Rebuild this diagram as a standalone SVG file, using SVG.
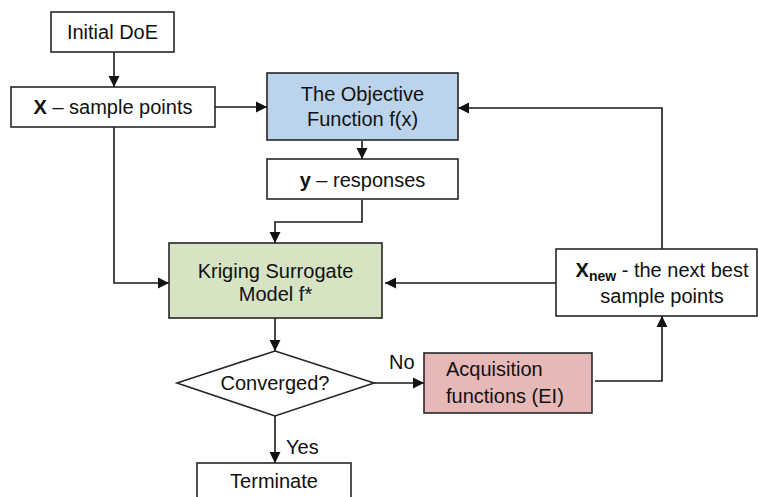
<svg xmlns="http://www.w3.org/2000/svg" width="758" height="497" viewBox="0 0 758 497">
<style>
.b{stroke:#262626;stroke-width:1.6;}
.t{font-family:"Liberation Sans",Arial,sans-serif;font-size:20px;fill:#111;}
.c{text-anchor:middle;}
.bo{font-weight:bold;}
.l{fill:none;stroke:#1a1a1a;stroke-width:1.6;}
</style>
<defs>
<marker id="ah" markerUnits="userSpaceOnUse" markerWidth="12" markerHeight="12" refX="11" refY="6" orient="auto">
<path d="M0,0.5 L11,6 L0,11.5 Z" fill="#111"/>
</marker>
</defs>
<rect width="758" height="497" fill="#fff"/>
<g id="connectors">
<line class="l" x1="114" y1="52" x2="114" y2="87" marker-end="url(#ah)"/>
<line class="l" x1="215" y1="107" x2="267" y2="107" marker-end="url(#ah)"/>
<line class="l" x1="362" y1="141" x2="362" y2="159" marker-end="url(#ah)"/>
<polyline class="l" points="362,200 362,222 275,222 275,243" marker-end="url(#ah)"/>
<polyline class="l" points="114,127 114,283 169,283" marker-end="url(#ah)"/>
<line class="l" x1="556" y1="283" x2="385" y2="283" marker-end="url(#ah)"/>
<polyline class="l" points="662,249 662,108 458,108" marker-end="url(#ah)"/>
<line class="l" x1="275" y1="318" x2="275" y2="351" marker-end="url(#ah)"/>
<line class="l" x1="374" y1="383" x2="424" y2="383" marker-end="url(#ah)"/>
<polyline class="l" points="595,381 662,381 662,316" marker-end="url(#ah)"/>
<line class="l" x1="275" y1="416" x2="275" y2="463" marker-end="url(#ah)"/>
<text class="t" x="389" y="369">No</text>
<text class="t" x="286" y="454">Yes</text>
</g>
<g id="initial-doe">
<rect class="b" x="51" y="12" width="123" height="40" fill="#fff"/>
<text class="t c" x="112.5" y="39">Initial DoE</text>
</g>
<g id="sample-points">
<rect class="b" x="11" y="87" width="204" height="40" fill="#fff"/>
<text class="t c" x="113" y="114"><tspan class="bo">X</tspan> – sample points</text>
</g>
<g id="objective">
<rect class="b" x="267" y="73" width="191" height="67" fill="#bcd3ec"/>
<text class="t c" x="362.5" y="101">The Objective</text>
<text class="t c" x="362.5" y="126">Function f(x)</text>
</g>
<g id="responses">
<rect class="b" x="267" y="159" width="191" height="40" fill="#fff"/>
<text class="t c" x="362.5" y="187"><tspan class="bo">y</tspan> – responses</text>
</g>
<g id="kriging">
<rect class="b" x="169" y="243" width="213" height="75" fill="#d6e4c4"/>
<text class="t c" x="275.5" y="278">Kriging Surrogate</text>
<text class="t c" x="275.5" y="301">Model  f*</text>
</g>
<g id="xnew">
<rect class="b" x="556" y="249" width="201" height="67" fill="#fff"/>
<text class="t c" x="662" y="277"><tspan class="bo">X</tspan><tspan class="bo" font-size="14" dy="4">new</tspan><tspan dy="-4"> - the next best</tspan></text>
<text class="t c" x="662" y="303">sample points</text>
</g>
<g id="converged">
<polygon class="b" points="275,351 374,383 275,416 177,383" fill="#fff"/>
<text class="t c" x="275" y="390">Converged?</text>
</g>
<g id="acquisition">
<rect class="b" x="424" y="353" width="168" height="60" fill="#e6b9b8"/>
<text class="t" x="446" y="376">Acquisition</text>
<text class="t" x="446" y="403">functions (EI)</text>
</g>
<g id="terminate">
<rect class="b" x="197" y="463" width="154" height="50" fill="#fff"/>
<text class="t c" x="274" y="488">Terminate</text>
</g>
</svg>
